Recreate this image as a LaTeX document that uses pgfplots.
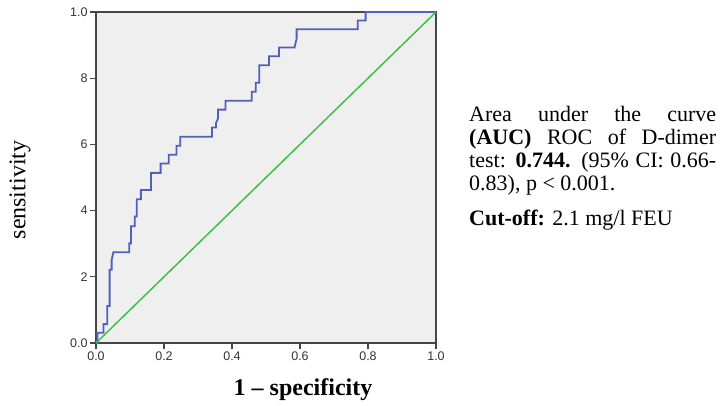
\documentclass[border=0pt]{standalone}
\usepackage{fontspec}
\setmainfont{Liberation Serif}
\newfontfamily\arial{Liberation Sans}
\usepackage{pgfplots}
\pgfplotsset{compat=1.18}

\definecolor{rocblue}{RGB}{78,98,186}
\definecolor{refgreen}{RGB}{62,192,72}
\definecolor{panel}{RGB}{239,239,239}
\definecolor{frame}{RGB}{70,70,70}

\begin{document}
\begin{tikzpicture}[x=1pt,y=1pt]
\useasboundingbox (0,0) rectangle (721,406);
\begin{axis}[
  at={(96pt,63pt)}, anchor=south west,
  scale only axis, width=340pt, height=331pt,
  xmin=0, xmax=1, ymin=0, ymax=1,
  axis background/.style={fill=panel},
  axis line style={frame, line width=1.3pt},
  tick style={frame, line width=1.2pt},
  tick align=outside, major tick length=6pt,
  xtick pos=bottom, ytick pos=left,
  xtick={0,0.2,0.4,0.6,0.8,1},
  xticklabels={0.0,0.2,0.4,0.6,0.8,1.0},
  ytick={0,0.2,0.4,0.6,0.8,1},
  yticklabels={0.0,2,4,6,8,1.0},
  ticklabel style={font=\arial\fontsize{12.5}{14}\selectfont, text=black!80},
  xticklabel style={yshift=1pt},
  yticklabel style={xshift=1pt},
  clip=false,
]
% ROC curve
\addplot[rocblue, line width=1.8pt] coordinates {
 (0,0) (0.004,0) (0.004,0.031) (0.022,0.031) (0.022,0.057) (0.033,0.057)
 (0.033,0.112) (0.040,0.112) (0.040,0.221) (0.046,0.221) (0.046,0.251)
 (0.051,0.274) (0.098,0.274) (0.098,0.301) (0.103,0.301) (0.103,0.353)
 (0.114,0.353) (0.114,0.382) (0.120,0.382) (0.120,0.434) (0.132,0.434)
 (0.132,0.462) (0.162,0.462) (0.162,0.514) (0.190,0.514) (0.190,0.542)
 (0.214,0.542) (0.214,0.569) (0.237,0.569) (0.237,0.596) (0.248,0.596)
 (0.248,0.623) (0.341,0.623) (0.341,0.651) (0.353,0.651) (0.353,0.665)
 (0.359,0.678) (0.359,0.705) (0.381,0.705) (0.381,0.732) (0.458,0.732)
 (0.458,0.759) (0.470,0.759) (0.470,0.786) (0.480,0.786) (0.480,0.839)
 (0.509,0.839) (0.509,0.866) (0.538,0.866) (0.538,0.893) (0.584,0.893)
 (0.590,0.920) (0.590,0.948) (0.770,0.948) (0.770,0.974) (0.793,0.974)
 (0.793,1.0) (1,1)
};
% reference line
\addplot[refgreen, line width=1.5pt] coordinates {(0,0) (1,1)};
\end{axis}
\node[rotate=90, font=\fontsize{24}{26}\selectfont] at (20,216) {sensitivity};
\node[font=\bfseries\fontsize{24}{26}\selectfont] at (303,16) {1 -- specificity};
\node[anchor=base west, inner sep=0pt] at (469,284.3) {%
  \parbox[t]{247pt}{\fontsize{22}{22.8}\selectfont
  Area under the curve\linebreak
  \textbf{(AUC)} ROC of D-dimer\linebreak
  test: \textbf{0.744.} (95\% CI: 0.66-\linebreak
  0.83), p < 0.001.\par
  \vspace{13pt}
  \textbf{Cut-off:} 2.1 mg/l FEU}};
\end{tikzpicture}
\end{document}
